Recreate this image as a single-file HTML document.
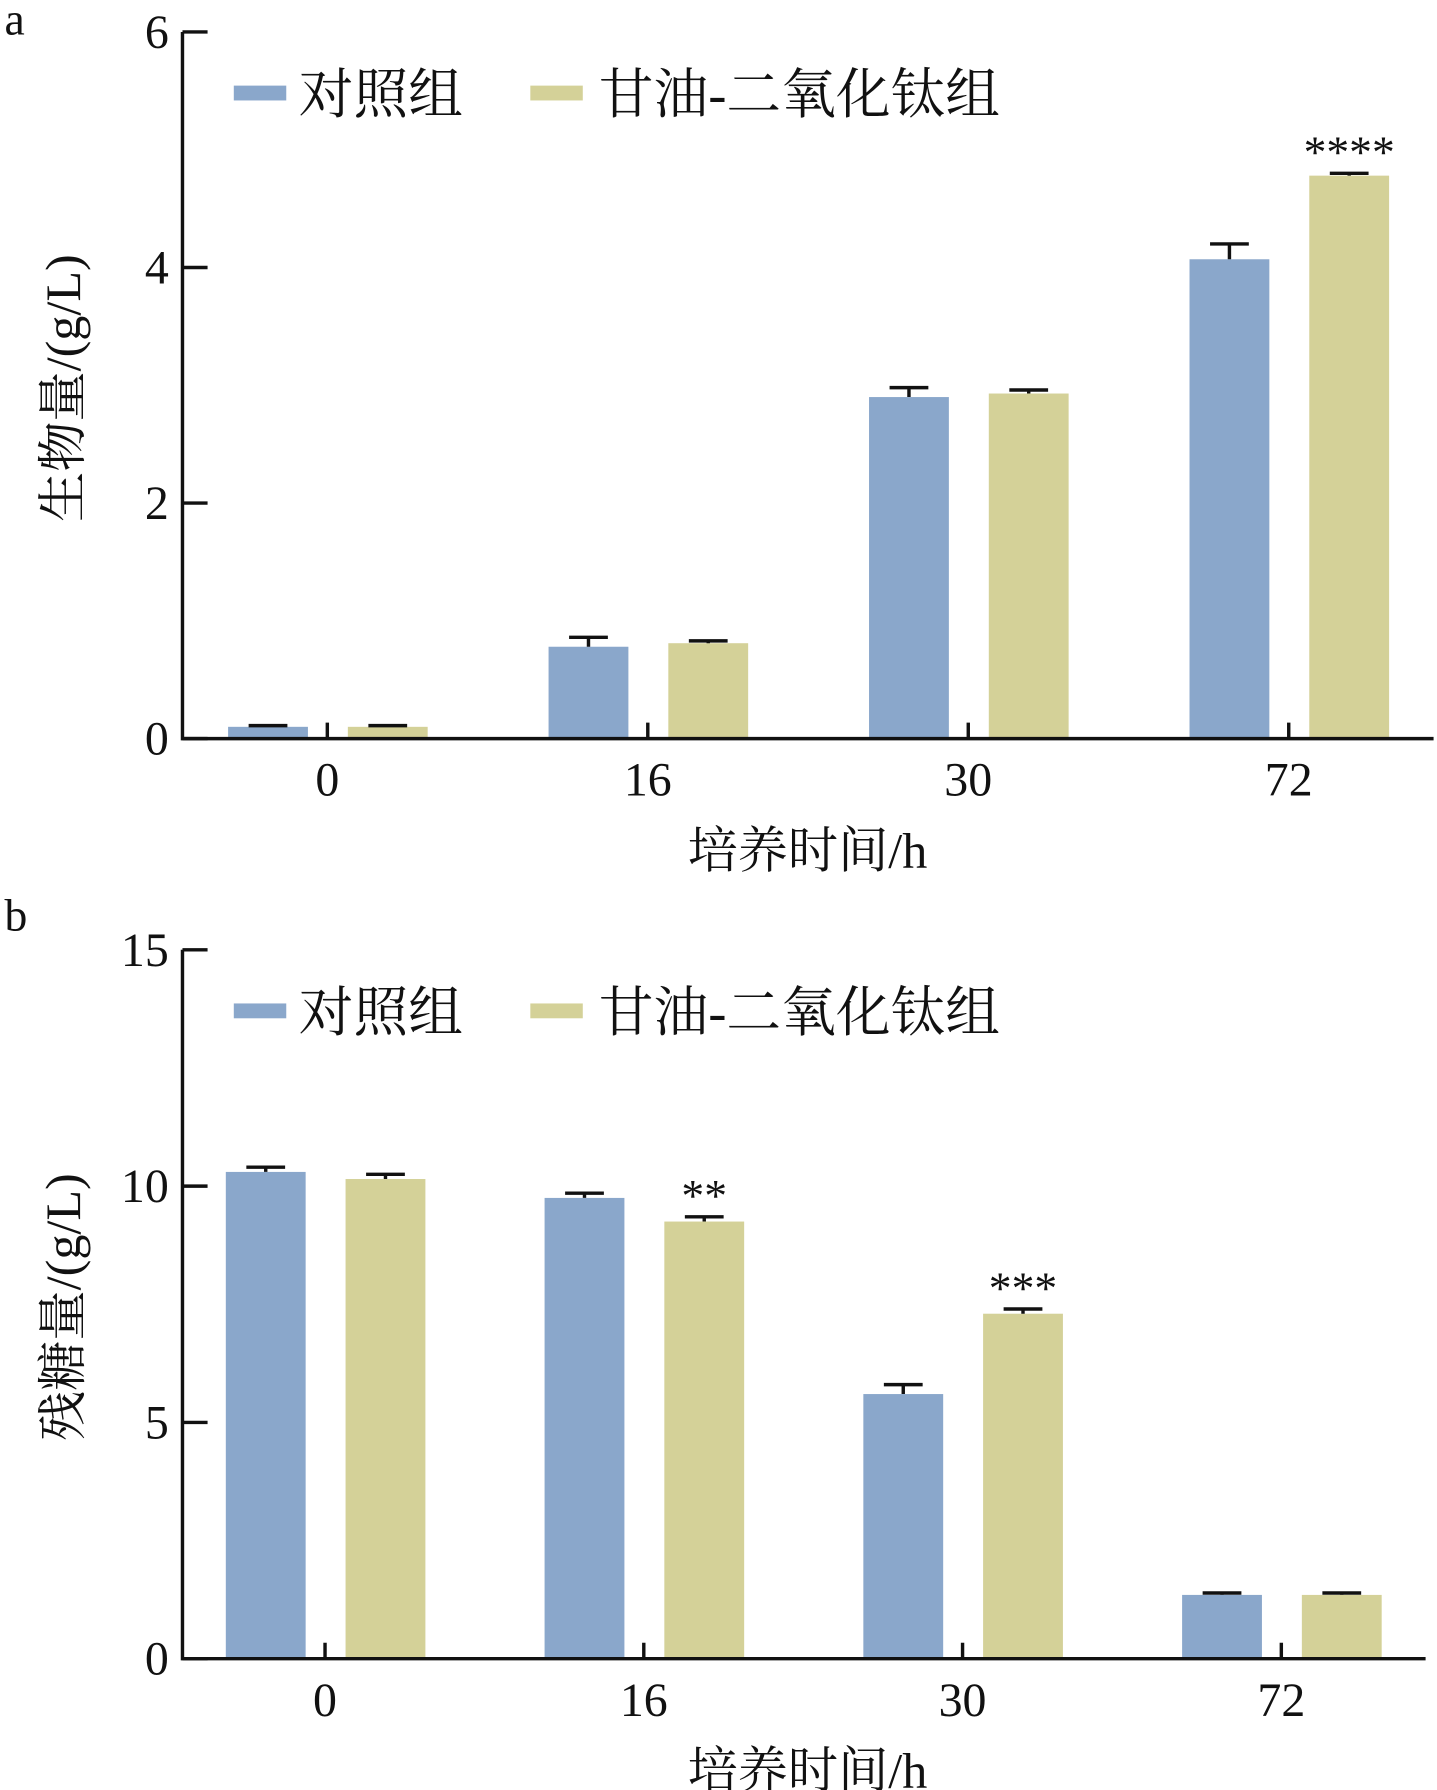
<!DOCTYPE html>
<html><head><meta charset="utf-8"><style>
html,body{margin:0;padding:0;background:#fff;}
svg{display:block;}
text{font-family:"Liberation Serif","Noto Serif CJK SC",serif;fill:#111;}
</style></head><body>
<svg id="fig" width="1437" height="1790" viewBox="0 0 1260 1568" preserveAspectRatio="none" xmlns="http://www.w3.org/2000/svg"></svg>
<script>
const categories = ["0","16","30","72"];
const seriesNames = ["对照组","甘油-二氧化钛组"];
const aControl = [0.1, 0.78, 2.9, 4.07];
const aTreat = [0.1, 0.81, 2.93, 4.78];
const aControlErr = [0.01, 0.08, 0.08, 0.13];
const aTreatErr = [0.01, 0.02, 0.03, 0.02];
const aTicks = [0, 2, 4, 6];
const aStars = ["", "", "", "****"];
const bControl = [10.3, 9.75, 5.6, 1.35];
const bTreat = [10.15, 9.25, 7.3, 1.35];
const bControlErr = [0.1, 0.1, 0.2, 0.04];
const bTreatErr = [0.1, 0.1, 0.1, 0.04];
const bTicks = [0, 5, 10, 15];
const bStars = ["", "**", "***", ""];

const NS = "http://www.w3.org/2000/svg";
const svg = document.getElementById("fig");
function mk(tag, attrs, parent){const e=document.createElementNS(NS,tag);for(const k in attrs)e.setAttribute(k,attrs[k]);(parent||svg).appendChild(e);return e;}

function panel(cfg){
  const g = mk("g",{});
  
  
  const x0=160, x1=cfg.right, yTop=cfg.top, yBot=cfg.bottom, ymax=cfg.ticks[cfg.ticks.length-1];
  const y = v => yBot - (v/ymax)*(yBot-yTop);
  const gc = i => cfg.first + i*cfg.step;
  const colors=["#8aa7cb","#d4d198"];
  // bars
  [cfg.c, cfg.t].forEach((vals, s) => {
    const errs = s===0?cfg.ce:cfg.te;
    vals.forEach((v,i)=>{
      const cx = gc(i) + (s===0?-52:53);
      const r = mk("rect",{x:cx-35,y:y(v),width:70,height:yBot-y(v),fill:colors[s]},g);
      
      
      const e = mk("path",{d:`M${cx} ${y(v)}V${y(v+errs[i])}M${cx-17} ${y(v+errs[i])}H${cx+17}`,stroke:"#111","stroke-width":3,fill:"none"},g);
      
      
      if(s===1 && cfg.stars[i]){
        const st = mk("text",{x:cx,y:y(v+errs[i])-5,"font-size":40,"text-anchor":"middle"},g);
        st.textContent = cfg.stars[i];
        
        
      }
    });
  });
  // axes
  const ax = mk("path",{d:`M${x0} ${yTop}V${yBot}H${x1}`,stroke:"#111","stroke-width":3,fill:"none"},g);
  
  
  cfg.ticks.forEach(t=>{
    mk("path",{d:`M${x0} ${y(t)}H${x0+22}`,stroke:"#111","stroke-width":3},g);
    const tl = mk("text",{x:x0-12,y:y(t)+14,"font-size":42,"text-anchor":"end"},g);
    tl.textContent = t;
    
    
  });
  categories.forEach((c,i)=>{
    mk("path",{d:`M${gc(i)} ${yBot}V${yBot-14}`,stroke:"#111","stroke-width":3},g);
    const tl = mk("text",{x:gc(i),y:yBot+50,"font-size":42,"text-anchor":"middle"},g);
    tl.textContent = c;
    
    
  });
  const xt = mk("text",{x:708,y:yBot+113,"font-size":44,"text-anchor":"middle"},g);
  xt.textContent = "培养时间/h";
  
  
  const ym = (yTop+yBot)/2;
  const yt = mk("text",{x:0,y:0,"font-size":44,"text-anchor":"middle",transform:`translate(70 ${cfg.ylabelY}) rotate(-90)`},g);
  yt.textContent = cfg.ylabel;
  
  
  const pl = mk("text",{x:4,y:cfg.labelY,"font-size":40},g);
  pl.textContent = cfg.id;
  
  
  // legend
  const ly = yTop + 54;
  [[205,262,0],[465,525,1]].forEach(([sx,tx,s])=>{
    const sw = mk("rect",{x:sx,y:ly-7,width:46,height:13,fill:colors[s]},g);
    
    
    const lt = mk("text",{x:tx,y:ly+17,"font-size":48},g);
    lt.textContent = seriesNames[s];
    
    
  });
}

panel({id:"a",top:28,bottom:647,right:1257,first:287,step:281,ticks:aTicks,c:aControl,t:aTreat,ce:aControlErr,te:aTreatErr,stars:aStars,ylabel:"生物量/(g/L)",ylabelY:340,labelY:30});
panel({id:"b",top:832,bottom:1453,right:1250,first:285,step:279.5,ticks:bTicks,c:bControl,t:bTreat,ce:bControlErr,te:bTreatErr,stars:bStars,ylabel:"残糖量/(g/L)",ylabelY:1145,labelY:815});
</script>
</body></html>
